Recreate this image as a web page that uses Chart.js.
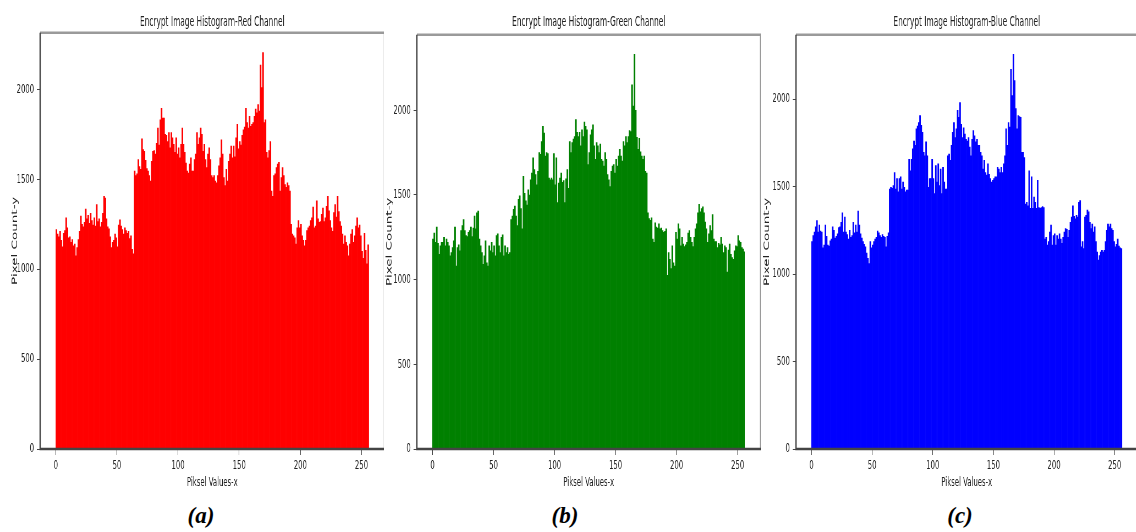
<!DOCTYPE html>
<html>
<head>
<meta charset="utf-8">
<title>Encrypt Image Histograms</title>
<script src="https://cdn.jsdelivr.net/npm/chart.js@4.4.0/dist/chart.umd.min.js"></script>
<style>
  html, body { margin: 0; padding: 0; background: #fff; overflow: hidden; width: 1136px; height: 532px; }
  /* the figure is squeezed sideways, like the source image */
  canvas { position: absolute; top: 0; transform-origin: 0 0; transform: scaleX(0.55); }
  .cap { position: absolute; top: 503px; width: 60px; text-align: center;
         font-family: 'Liberation Serif', 'Times New Roman', serif;
         font-weight: bold; font-style: italic; font-size: 23px; color: #000; }
</style>
</head>
<body>
<canvas id="redChart" width="699" height="500" style="left:0px"></canvas>
<canvas id="greenChart" width="692" height="500" style="left:380px"></canvas>
<canvas id="blueChart" width="690" height="500" style="left:758px"></canvas>
<div class="cap" style="left:171px">(a)</div>
<div class="cap" style="left:535px">(b)</div>
<div class="cap" style="left:930px">(c)</div>

<script>
// Pixel counts per intensity value 0..255
const redCounts = [
  1220, 1195, 1180, 1210, 1160, 1125, 1200, 1215,
  1285, 1230, 1175, 1180, 1150, 1165, 1130, 1140,
  1075, 1120, 1165, 1210, 1295, 1250, 1235, 1260,
  1335, 1280, 1300, 1255, 1310, 1270, 1245, 1285,
  1240, 1360, 1265, 1280, 1235, 1260, 1310, 1405,
  1395, 1280, 1235, 1225, 1180, 1120, 1150, 1160,
  1195, 1175, 1125, 1245, 1275, 1240, 1220, 1195,
  1230, 1215, 1200, 1210, 1170, 1185, 1110, 1085,
  1545, 1520, 1530, 1610, 1570, 1555, 1725, 1665,
  1655, 1605, 1560, 1545, 1520, 1490, 1600, 1655,
  1660, 1640, 1700, 1785, 1690, 1830, 1895, 1840,
  1840, 1750, 1745, 1710, 1760, 1675, 1760, 1730,
  1695, 1650, 1730, 1640, 1675, 1620, 1695, 1785,
  1695, 1650, 1590, 1545, 1535, 1585, 1620, 1545,
  1545, 1610, 1640, 1760, 1695, 1730, 1785, 1750,
  1655, 1695, 1610, 1565, 1640, 1675, 1610, 1520,
  1510, 1520, 1490, 1480, 1520, 1575, 1620, 1720,
  1640, 1510, 1465, 1555, 1490, 1600, 1640, 1685,
  1620, 1685, 1625, 1730, 1805, 1670, 1710, 1690,
  1745, 1775, 1790, 1895, 1815, 1785, 1850, 1795,
  1805, 1815, 1850, 1890, 1870, 1915, 1880, 2135,
  2010, 2205, 1815, 1830, 1650, 1620, 1660, 1710,
  1435, 1405, 1520, 1530, 1565, 1585, 1595, 1435,
  1510, 1565, 1520, 1470, 1455, 1480, 1465, 1435,
  1250, 1195, 1185, 1175, 1140, 1230, 1270, 1230,
  1250, 1185, 1160, 1130, 1160, 1215, 1230, 1240,
  1270, 1285, 1345, 1230, 1240, 1380, 1280, 1260,
  1265, 1305, 1340, 1265, 1285, 1350, 1405, 1325,
  1270, 1230, 1210, 1315, 1360, 1290, 1405, 1320,
  1265, 1240, 1195, 1140, 1185, 1150, 1130, 1075,
  1140, 1195, 1220, 1150, 1185, 1240, 1285, 1230,
  1245, 1185, 1100, 1060, 1200, 1105, 1030, 1135
];

const greenCounts = [
  1240, 1275, 1220, 1310, 1215, 1150, 1200, 1220,
  1220, 1250, 1200, 1240, 1220, 1200, 1140, 1160,
  1190, 1230, 1310, 1080, 1190, 1205, 1170, 1290,
  1320, 1355, 1290, 1260, 1255, 1280, 1290, 1310,
  1255, 1305, 1375, 1300, 1395, 1405, 1240, 1200,
  1160, 1090, 1140, 1230, 1100, 1080, 1200, 1170,
  1220, 1160, 1200, 1140, 1260, 1270, 1200, 1160,
  1250, 1265, 1140, 1200, 1160, 1190, 1150, 1160,
  1355, 1375, 1415, 1435, 1375, 1320, 1475, 1495,
  1420, 1300, 1610, 1510, 1465, 1440, 1530, 1500,
  1590, 1630, 1720, 1650, 1620, 1560, 1640, 1750,
  1740, 1815, 1905, 1865, 1730, 1750, 1745, 1600,
  1590, 1600, 1590, 1745, 1560, 1720, 1455, 1570,
  1600, 1630, 1575, 1585, 1455, 1595, 1650, 1540,
  1815, 1750, 1810, 1830, 1845, 1945, 1870, 1845,
  1870, 1790, 1885, 1845, 1930, 1905, 1885, 1680,
  1750, 1855, 1885, 1915, 1790, 1710, 1810, 1790,
  1750, 1800, 1710, 1700, 1670, 1750, 1710, 1620,
  1590, 1550, 1640, 1670, 1680, 1630, 1710, 1670,
  1730, 1770, 1730, 1700, 1815, 1790, 1845, 1810,
  1845, 1880, 1875, 2150, 2025, 2330, 2000, 1840,
  1770, 1835, 1755, 1730, 1710, 1730, 1640, 1630,
  1395, 1360, 1350, 1365, 1240, 1220, 1335, 1310,
  1305, 1330, 1300, 1305, 1290, 1280, 1285, 1300,
  1025, 1160, 1120, 1065, 1200, 1100, 1080, 1280,
  1240, 1330, 1300, 1200, 1250, 1210, 1195, 1205,
  1220, 1275, 1290, 1250, 1220, 1195, 1250, 1300,
  1330, 1395, 1445, 1400, 1420, 1430, 1395, 1340,
  1300, 1220, 1270, 1320, 1290, 1385, 1240, 1225,
  1225, 1190, 1215, 1205, 1250, 1210, 1160, 1200,
  1190, 1045, 1175, 1210, 1150, 1130, 1120, 1170,
  1200, 1195, 1260, 1230, 1220, 1190, 1180, 1165
];

const blueCounts = [
  1185, 1220, 1240, 1270, 1305, 1240, 1280, 1245,
  1240, 1150, 1165, 1280, 1215, 1165, 1160, 1190,
  1200, 1270, 1250, 1205, 1215, 1230, 1265, 1270,
  1295, 1350, 1240, 1325, 1240, 1225, 1200, 1250,
  1210, 1220, 1295, 1235, 1280, 1240, 1360, 1280,
  1230, 1205, 1185, 1170, 1155, 1120, 1090, 1060,
  1185, 1150, 1165, 1185, 1200, 1210, 1245, 1235,
  1220, 1210, 1225, 1215, 1210, 1155, 1215, 1235,
  1485, 1495, 1490, 1505, 1580, 1485, 1545, 1470,
  1545, 1555, 1485, 1525, 1495, 1470, 1480, 1480,
  1655, 1590, 1655, 1715, 1760, 1735, 1830, 1845,
  1865, 1905, 1850, 1810, 1695, 1675, 1755, 1675,
  1495, 1545, 1545, 1655, 1545, 1460, 1620, 1525,
  1630, 1505, 1600, 1460, 1610, 1525, 1485, 1485,
  1675, 1685, 1650, 1735, 1810, 1865, 1780, 1830,
  1935, 1895, 1980, 1855, 1780, 1835, 1800, 1770,
  1760, 1780, 1725, 1675, 1770, 1820, 1790, 1755,
  1770, 1735, 1735, 1695, 1675, 1600, 1650, 1580,
  1565, 1630, 1570, 1545, 1525, 1535, 1545, 1555,
  1555, 1610, 1600, 1580, 1610, 1580, 1630, 1675,
  1830, 1735, 1865, 1840, 2170, 2020, 2255, 2105,
  1945, 1830, 1905, 1900, 1895, 1695, 1695, 1665,
  1400, 1410, 1390, 1590, 1375, 1555, 1375, 1440,
  1410, 1375, 1535, 1380, 1375, 1380, 1385, 1380,
  1200, 1210, 1165, 1185, 1240, 1280, 1165, 1220,
  1230, 1165, 1220, 1200, 1230, 1200, 1175, 1210,
  1240, 1260, 1255, 1210, 1250, 1295, 1325, 1390,
  1330, 1315, 1335, 1325, 1410, 1420, 1155, 1185,
  1145, 1325, 1335, 1365, 1355, 1295, 1260, 1285,
  1240, 1270, 1185, 1125, 1080, 1105, 1125, 1135,
  1125, 1135, 1185, 1250, 1285, 1270, 1285, 1260,
  1250, 1185, 1155, 1170, 1200, 1160, 1150, 1145
];

const titles = [
  'Encrypt Image Histogram-Red Channel',
  'Encrypt Image Histogram-Green Channel',
  'Encrypt Image Histogram-Blue Channel'
];
const xLabel = 'Piksel Values-x';
const yLabel = 'Pixel Count-y';
const xTicks = [0, 50, 100, 150, 200, 250];
const yTicks = [0, 500, 1000, 1500, 2000];

Chart.defaults.font.family = "'DejaVu Sans', Verdana, sans-serif";

// matplotlib-like box round the plot area
const framePlugin = {
  id: 'frame',
  afterDatasetsDraw(chart) {
    const { ctx, chartArea: a } = chart;
    ctx.save();
    ctx.strokeStyle = '#9a9a9a';
    ctx.lineWidth = 2.5;
    ctx.beginPath();
    ctx.moveTo(a.left, a.top); ctx.lineTo(a.right, a.top); ctx.lineTo(a.right, a.bottom);
    ctx.stroke();
    ctx.strokeStyle = '#444';
    ctx.beginPath();
    ctx.moveTo(a.left, a.top); ctx.lineTo(a.left, a.bottom); ctx.lineTo(a.right, a.bottom);
    ctx.stroke();
    ctx.restore();
  }
};

function makeHistogram(id, counts, color, title, axisWidth, yTitlePad, titleBottomPad) {
  const points = counts.map((c, i) => ({ x: i + 0.5, y: c }));
  return new Chart(document.getElementById(id), {
    type: 'bar',
    data: {
      datasets: [{
        data: points,
        backgroundColor: color,
        borderWidth: 0,
        barPercentage: 1,
        categoryPercentage: 1
      }]
    },
    options: {
      responsive: false,
      animation: false,
      devicePixelRatio: 1,
      layout: { padding: 0 },
      plugins: {
        legend: { display: false },
        tooltip: { enabled: false },
        title: {
          display: true,
          text: title,
          fullSize: false,
          color: '#222',
          font: { size: 13.5, weight: 'normal' },
          padding: { top: 14, bottom: titleBottomPad }
        }
      },
      scales: {
        x: {
          type: 'linear',
          min: -0.05 * counts.length,
          max: counts.length * 1.05,
          offset: false,
          border: { display: false },
          grid: { drawOnChartArea: false, offset: false, tickLength: 6, tickColor: '#444' },
          ticks: { autoSkip: false, maxRotation: 0, padding: 3, color: '#222', font: { size: 12.5 }, callback: v => v },
          afterBuildTicks: s => { s.ticks = xTicks.map(v => ({ value: v })); },
          title: {
            display: true, text: xLabel, color: '#222',
            font: { size: 12.5 }, padding: { top: 2, bottom: 10 }
          },
          afterFit: s => { s.height = 51; }
        },
        y: {
          min: 0,
          max: Math.max(...counts) * 1.05,
          border: { display: false },
          grid: { drawOnChartArea: false, tickLength: 6, tickColor: '#444' },
          ticks: { autoSkip: false, padding: 5, color: '#222', font: { size: 12.5 }, callback: v => v },
          afterBuildTicks: s => { s.ticks = yTicks.map(v => ({ value: v })); },
          title: {
            display: true, text: yLabel, color: '#222',
            font: { size: 13.5 }, padding: { top: yTitlePad, bottom: 0 }
          },
          afterFit: s => { s.width = axisWidth; }
        }
      }
    },
    plugins: [framePlugin]
  });
}

makeHistogram('redChart', redCounts, '#ff0000', titles[0], 73, 19, 2.5);
makeHistogram('greenChart', greenCounts, '#008000', titles[1], 67, 9, 4.5);
makeHistogram('blueChart', blueCounts, '#0000ff', titles[2], 69, 8, 4.5);
</script>
</body>
</html>
